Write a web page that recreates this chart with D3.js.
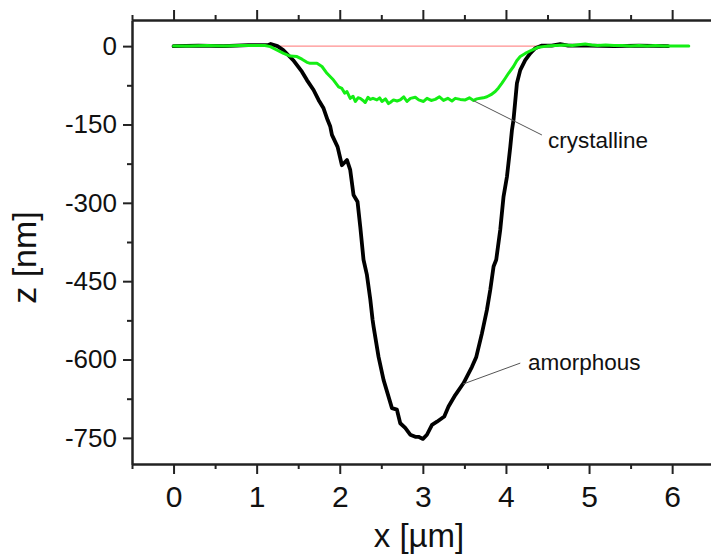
<!DOCTYPE html>
<html>
<head>
<meta charset="utf-8">
<script src="https://cdn.jsdelivr.net/npm/d3@7"></script>
<style>
  html, body { margin: 0; padding: 0; background: #fff; }
  svg { display: block; font-family: "Liberation Sans", Arial, sans-serif; }
</style>
</head>
<body>
<svg id="chart" width="711" height="556"></svg>
<script>
// ---- data ----
const xTicks = [0, 1, 2, 3, 4, 5, 6];
const xMinorTicks = [-0.5, 0.5, 1.5, 2.5, 3.5, 4.5, 5.5, 6.5];
const yTicks = [0, -150, -300, -450, -600, -750];
const yMinorTicks = [-75, -225, -375, -525, -675];

const amorphous = [
  [0, 0], [0.3, 1], [0.6, 0], [0.9, 2], [1.05, 2], [1.14, 2], [1.17, 4], [1.25, 0],
  [1.32, -7.5], [1.44, -27], [1.545, -49], [1.605, -65], [1.685, -84], [1.745, -103],
  [1.805, -119], [1.853, -141], [1.886, -154], [1.906, -170], [1.974, -193], [2.026, -228],
  [2.087, -218], [2.126, -237], [2.166, -285], [2.214, -298], [2.247, -346], [2.286, -409],
  [2.327, -438], [2.367, -484], [2.395, -524], [2.407, -537], [2.467, -595], [2.527, -639],
  [2.587, -671], [2.628, -693], [2.688, -696], [2.728, -722], [2.788, -731], [2.848, -744],
  [2.909, -748], [2.948, -748], [3.001, -752], [3.049, -744], [3.110, -725], [3.170, -719],
  [3.258, -709], [3.309, -690], [3.390, -668], [3.490, -645], [3.591, -614], [3.643, -595],
  [3.711, -550], [3.771, -505], [3.811, -467], [3.851, -422], [3.883, -409], [3.931, -352],
  [3.971, -288], [4.012, -250], [4.052, -193], [4.072, -161], [4.091, -141], [4.132, -71],
  [4.172, -46], [4.232, -27], [4.292, -14], [4.352, -4], [4.433, 1], [4.55, 1], [4.653, 4],
  [4.75, 1], [5.0, 1], [5.3, 0], [5.6, 1], [5.95, 0]
];

const crystalline = [
  [0, 0], [0.2, 0], [0.4, 1], [0.6, 0], [0.8, 1], [1.0, 1], [1.1, 1], [1.164, -1],
  [1.224, -6], [1.324, -14], [1.404, -19], [1.485, -20], [1.545, -25], [1.605, -31],
  [1.645, -33], [1.726, -33], [1.786, -39], [1.846, -52], [1.925, -65], [1.986, -78],
  [2.026, -81], [2.06, -90], [2.087, -87], [2.126, -100], [2.16, -96], [2.187, -106],
  [2.22, -99], [2.247, -100], [2.28, -104], [2.307, -108], [2.34, -98], [2.367, -102],
  [2.4, -100], [2.447, -103], [2.48, -99], [2.508, -106], [2.55, -101], [2.587, -110],
  [2.607, -108], [2.647, -103], [2.69, -105], [2.728, -103], [2.77, -97], [2.809, -106],
  [2.85, -100], [2.909, -98], [2.95, -103], [3.008, -106], [3.05, -100], [3.1, -104],
  [3.149, -102], [3.2, -97], [3.249, -104], [3.3, -100], [3.35, -105], [3.39, -100],
  [3.45, -102], [3.51, -103], [3.56, -99], [3.61, -104], [3.65, -101], [3.691, -100],
  [3.73, -99], [3.771, -97], [3.82, -93], [3.871, -87], [3.91, -80], [3.952, -71],
  [3.99, -62], [4.031, -52], [4.091, -39], [4.13, -28], [4.172, -20], [4.232, -14],
  [4.313, -7.5], [4.392, -2], [4.493, 0], [4.6, 1], [4.7, 2], [4.8, 1], [4.9, 3],
  [4.954, 4], [5.03, 2], [5.1, 1], [5.2, 2], [5.3, 1], [5.4, 1], [5.5, 0], [5.6, 1],
  [5.7, 0], [5.8, 1], [5.9, 0], [6.0, 0], [6.1, 0], [6.2, 0]
];

const reference = [[1.16, 0], [4.38, 0]];

const labels = [
  { text: "crystalline", anchor: [3.61, -104.5], pos: [4.505, -195.6], off: [-6, -13.3] },
  { text: "amorphous", anchor: [3.483, -647], pos: [4.265, -621], off: [-7.7, -7.4] }
];

// ---- chart ----
const svg = d3.select("#chart");
const x = d3.scaleLinear().domain([-0.5, 6.5]).range([132, 713.7]);
const y = d3.scaleLinear().domain([50, -800]).range([20, 464]);

const axisColor = "#222";
const fmt = d => String(d);

function styleAxis(g) {
  g.selectAll(".domain").attr("stroke", axisColor).attr("stroke-width", 2);
  g.selectAll(".tick line").attr("stroke", axisColor).attr("stroke-width", 2);
}

// minor ticks
svg.append("g").attr("transform", `translate(0,${y(50)})`)
  .call(d3.axisTop(x).tickValues(xMinorTicks).tickSize(5).tickSizeOuter(0).tickFormat(""))
  .call(styleAxis);
svg.append("g").attr("transform", `translate(0,${y(-800)})`)
  .call(d3.axisBottom(x).tickValues(xMinorTicks).tickSize(5).tickSizeOuter(0).tickFormat(""))
  .call(styleAxis);
svg.append("g").attr("transform", `translate(${x(-0.5)},0)`)
  .call(d3.axisLeft(y).tickValues(yMinorTicks).tickSize(5).tickSizeOuter(0).tickFormat(""))
  .call(styleAxis);

// major ticks
svg.append("g").attr("transform", `translate(0,${y(50)})`)
  .call(d3.axisTop(x).tickValues(xTicks).tickSize(10).tickSizeOuter(0).tickFormat(""))
  .call(styleAxis);

const gx = svg.append("g").attr("transform", `translate(0,${y(-800)})`)
  .call(d3.axisBottom(x).tickValues(xTicks).tickSize(10).tickPadding(12).tickSizeOuter(0).tickFormat(fmt))
  .call(styleAxis);
gx.selectAll(".tick text").attr("font-size", 30).attr("fill", "#111")
  .attr("font-family", "Liberation Sans, Arial, sans-serif");

const gy = svg.append("g").attr("transform", `translate(${x(-0.5)},0)`)
  .call(d3.axisLeft(y).tickValues(yTicks).tickSize(9).tickPadding(6).tickSizeOuter(0).tickFormat(fmt))
  .call(styleAxis);
gy.selectAll(".tick text").attr("font-size", 26).attr("fill", "#111")
  .attr("font-family", "Liberation Sans, Arial, sans-serif");

// axis titles
svg.append("text").attr("x", 419).attr("y", 546.5).attr("text-anchor", "middle")
  .attr("font-size", 33).attr("fill", "#111").text("x [µm]");
svg.append("text").attr("transform", "translate(36,257.5) rotate(-90)")
  .attr("text-anchor", "middle").attr("font-size", 34).attr("fill", "#111").text("z [nm]");

// lines
const line = d3.line().x(d => x(d[0])).y(d => y(d[1]));

svg.append("path").datum(reference).attr("d", line)
  .attr("fill", "none").attr("stroke", "#ff8f8f").attr("stroke-width", 1.2);
svg.append("path").datum(amorphous).attr("d", line)
  .attr("fill", "none").attr("stroke", "#000").attr("stroke-width", 3.8)
  .attr("stroke-linejoin", "round").attr("stroke-linecap", "round");
svg.append("path").datum(crystalline).attr("d", line)
  .attr("fill", "none").attr("stroke", "#14ee14").attr("stroke-width", 3)
  .attr("stroke-linejoin", "round").attr("stroke-linecap", "round");

// annotations
labels.forEach(l => {
  svg.append("line")
    .attr("x1", x(l.anchor[0])).attr("y1", y(l.anchor[1]))
    .attr("x2", x(l.pos[0]) + l.off[0]).attr("y2", y(l.pos[1]) + l.off[1])
    .attr("stroke", "#555").attr("stroke-width", 1);
  svg.append("text").attr("x", x(l.pos[0])).attr("y", y(l.pos[1]))
    .attr("font-size", 22.5).attr("fill", "#111").text(l.text);
});
</script>
</body>
</html>
